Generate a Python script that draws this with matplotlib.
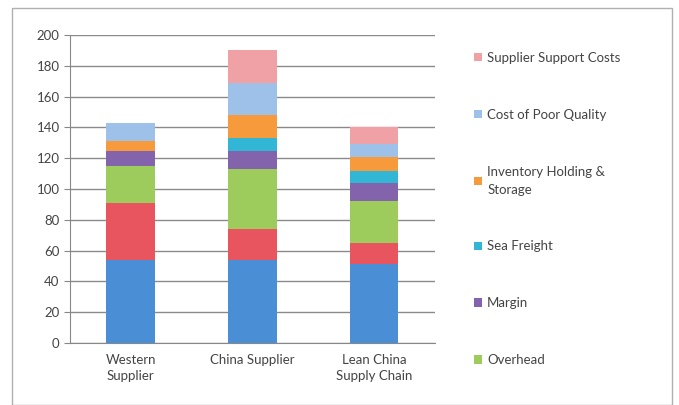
import numpy as np
import matplotlib.pyplot as plt

plt.rcParams['font.family'] = ['Lato', 'DejaVu Sans']

# Chart data
categories = ['Western\nSupplier', 'China Supplier', 'Lean China\nSupply Chain']
series_names = ['Materials', 'Labour', 'Overhead', 'Margin', 'Sea Freight',
                'Inventory Holding &\nStorage', 'Cost of Poor Quality',
                'Supplier Support Costs']
materials = [54, 54, 51]
labour = [37, 20, 14]
overhead = [24, 39, 27]
margin = [10, 11.5, 12]
sea_freight = [0, 8.5, 7.5]
inventory = [6, 15, 9.5]
poor_quality = [12, 21, 8]
support = [0, 21.5, 11]
series_values = [materials, labour, overhead, margin, sea_freight,
                 inventory, poor_quality, support]
colors = ['#4a8ed6', '#e8555e', '#9dcb5c', '#8463ad', '#31b6d6',
          '#f79a3c', '#9dc1e9', '#f0a1a6']
legend_shown = series_names[2:]  # legend in source is cut off at the bottom

fig = plt.figure(figsize=(6.79, 4.05), dpi=100)
ax = fig.add_axes([70 / 679, 1 - 343 / 405, 365 / 679, 308 / 405])

x = np.arange(len(categories))
bottom = np.zeros(len(categories))
handles = {}
for name, vals, col in zip(series_names, series_values, colors):
    bars = ax.bar(x, vals, width=0.4, bottom=bottom, color=col, edgecolor='none',
                  zorder=3, label=name)
    handles[name] = bars
    bottom += np.array(vals)

ax.set_xlim(-0.5, 2.5)
ax.set_ylim(0, 200)
ax.set_yticks(np.arange(0, 201, 20))
ax.grid(axis='y', color='#8a8a8a', linewidth=1, zorder=0)
ax.set_xticks(x)
ax.set_xticklabels(categories, fontsize=9.5, color='#444444', linespacing=1.4)
ax.tick_params(axis='y', labelsize=9.5, labelcolor='#444444', length=4, color='#888888')
ax.tick_params(axis='x', length=0, pad=8)
for side in ['top', 'right']:
    ax.spines[side].set_visible(False)
ax.spines['left'].set_color('#888888')
ax.spines['bottom'].set_color('#888888')

leg_names = legend_shown[::-1]
leg = fig.legend([handles[n] for n in leg_names], leg_names,
                 loc='upper left', bbox_to_anchor=(462 / 679, 1 - 40 / 405),
                 frameon=False, fontsize=9.5, labelspacing=3.4,
                 handlelength=0.6, handleheight=0.6, handletextpad=0.4)
for t in leg.get_texts():
    t.set_color('#444444')
    t.set_linespacing(1.6)

# outer chart border
fig.patches.append(plt.Rectangle((12 / 679, 0), 660 / 679, 1 - 8 / 405,
                                 transform=fig.transFigure, fill=False,
                                 edgecolor='#b0b0b0', linewidth=1))

fig.savefig('out.png', dpi=100)
